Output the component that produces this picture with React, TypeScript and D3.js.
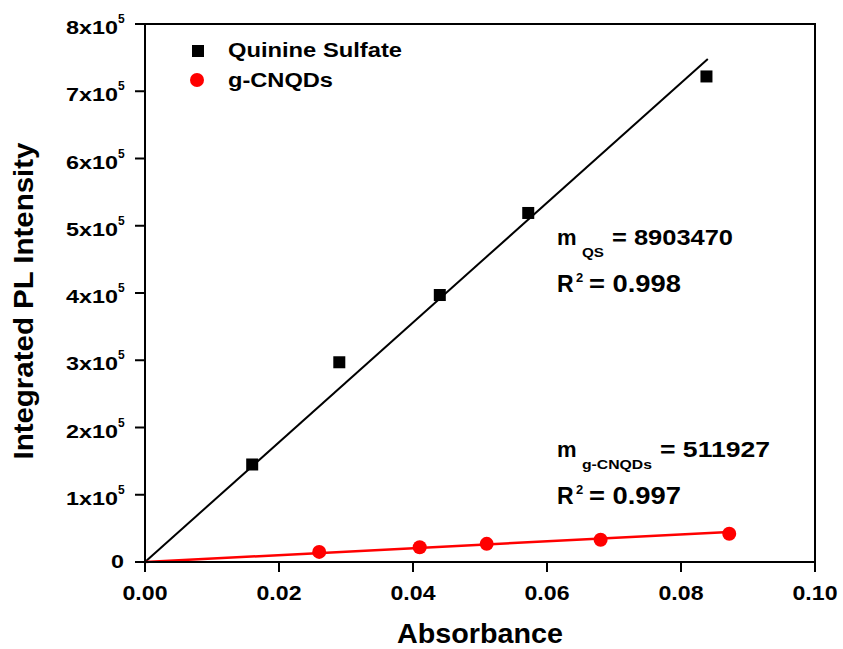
import * as d3 from 'd3';

// Absorbance vs integrated PL intensity
const qsAbs = [0.016, 0.029, 0.044, 0.0572, 0.0838];
const qsPL = [145000, 297000, 397000, 519000, 722000];
const cnAbs = [0.026, 0.041, 0.051, 0.068, 0.0872];
const cnPL = [15000, 22000, 27000, 33000, 42000];

const qsSlope = 8903470;
const cnSlope = 511927;
const qsR2 = '0.998';
const cnR2 = '0.997';

const xTicks = [0, 0.02, 0.04, 0.06, 0.08, 0.1];
const yTicks = [0, 1, 2, 3, 4, 5, 6, 7, 8];

const font = '"Liberation Sans", Arial, sans-serif';

// little helper: slope + R^2 block, glyphs are wider than Arial in the original
function FitLabel({ x, y, sub, subLen, slope, slopeLen, r2 }) {
  const subX = x + 25;
  const eqX = subX + subLen + 8;
  return (
    <g>
      <text x={x} y={y} fontSize={22}>m</text>
      <text x={subX} y={y + 12} fontSize={13} textLength={subLen} lengthAdjust="spacingAndGlyphs">
        {sub}
      </text>
      <text x={eqX} y={y} fontSize={22} textLength={slopeLen} lengthAdjust="spacingAndGlyphs">
        = {slope}
      </text>
      <text x={x} y={y + 47} fontSize={23}>R</text>
      <text x={x + 19} y={y + 37} fontSize={13}>2</text>
      <text x={x + 32} y={y + 47} fontSize={23} textLength={92} lengthAdjust="spacingAndGlyphs">
        = {r2}
      </text>
    </g>
  );
}

function App() {
  const width = 843;
  const height = 649;
  const left = 145;
  const right = 815;
  const top = 24;
  const bottom = 562;

  const x = d3.scaleLinear().domain([0, 0.1]).range([left, right]);
  const y = d3.scaleLinear().domain([0, 800000]).range([bottom, top]);

  const line = d3
    .line<number[]>()
    .x((d) => x(d[0]))
    .y((d) => y(d[1]));

  const qsFit = [
    [0, 0],
    [0.084, 0.084 * qsSlope],
  ];
  const cnFit = [
    [0, 0],
    [0.0872, 0.0872 * cnSlope],
  ];

  return (
    <svg
      width={width}
      height={height}
      style={{ position: 'absolute', left: 0, top: 0, background: '#fff' }}
      fontFamily={font}
      fontWeight="bold"
    >
      <rect x={0} y={0} width={width} height={height} fill="#fff" />

      {/* fit lines */}
      <path d={line(qsFit) || ''} stroke="#000" strokeWidth={2} fill="none" />
      <path d={line(cnFit) || ''} stroke="#ff0000" strokeWidth={2.5} fill="none" />

      {/* points */}
      {qsAbs.map((a, i) => (
        <rect
          key={'q' + i}
          x={x(a) - 6}
          y={y(qsPL[i]) - 6}
          width={12}
          height={12}
          fill="#000"
        />
      ))}
      {cnAbs.map((a, i) => (
        <circle key={'c' + i} cx={x(a)} cy={y(cnPL[i])} r={7} fill="#ff0000" />
      ))}

      {/* frame */}
      <rect
        x={left}
        y={top}
        width={right - left}
        height={bottom - top}
        fill="none"
        stroke="#000"
        strokeWidth={2}
      />

      {/* x axis */}
      {xTicks.map((t) => (
        <g key={'x' + t}>
          <line x1={x(t)} x2={x(t)} y1={bottom} y2={bottom + 10} stroke="#000" strokeWidth={2} />
          <text
            x={x(t)}
            y={bottom + 38}
            textAnchor="middle"
            fontSize={21}
            textLength={45}
            lengthAdjust="spacingAndGlyphs"
          >
            {t.toFixed(2)}
          </text>
        </g>
      ))}
      <text
        x={(left + right) / 2}
        y={643}
        textAnchor="middle"
        fontSize={28}
        textLength={166}
        lengthAdjust="spacingAndGlyphs"
      >
        Absorbance
      </text>

      {/* y axis */}
      {yTicks.map((t) => (
        <g key={'y' + t}>
          <line x1={left - 10} x2={left} y1={y(t * 100000)} y2={y(t * 100000)} stroke="#000" strokeWidth={2} />
          {t === 0 ? (
            <text x={124} y={y(0) + 6} textAnchor="end" fontSize={19} textLength={13} lengthAdjust="spacingAndGlyphs">
              0
            </text>
          ) : (
            <>
              <text
                x={118}
                y={y(t * 100000) + 10}
                textAnchor="end"
                fontSize={19}
                textLength={52}
                lengthAdjust="spacingAndGlyphs"
              >
                {t}x10
              </text>
              <text x={118} y={y(t * 100000) - 1} fontSize={12}>
                5
              </text>
            </>
          )}
        </g>
      ))}
      <text
        transform={`translate(33,301) rotate(-90)`}
        textAnchor="middle"
        fontSize={28}
        textLength={317}
        lengthAdjust="spacingAndGlyphs"
      >
        Integrated PL Intensity
      </text>

      {/* legend */}
      <rect x={192} y={45} width={12} height={12} fill="#000" />
      <text x={228} y={57} fontSize={20} textLength={174} lengthAdjust="spacingAndGlyphs">
        Quinine Sulfate
      </text>
      <circle cx={197} cy={80} r={7} fill="#ff0000" />
      <text x={228} y={87} fontSize={20} textLength={105} lengthAdjust="spacingAndGlyphs">
        g-CNQDs
      </text>

      {/* annotations */}
      <FitLabel x={557} y={245} sub="QS" subLen={22} slope={qsSlope} slopeLen={121} r2={qsR2} />
      <FitLabel x={557} y={457} sub="g-CNQDs" subLen={70} slope={cnSlope} slopeLen={110} r2={cnR2} />
    </svg>
  );
}

export default App;
